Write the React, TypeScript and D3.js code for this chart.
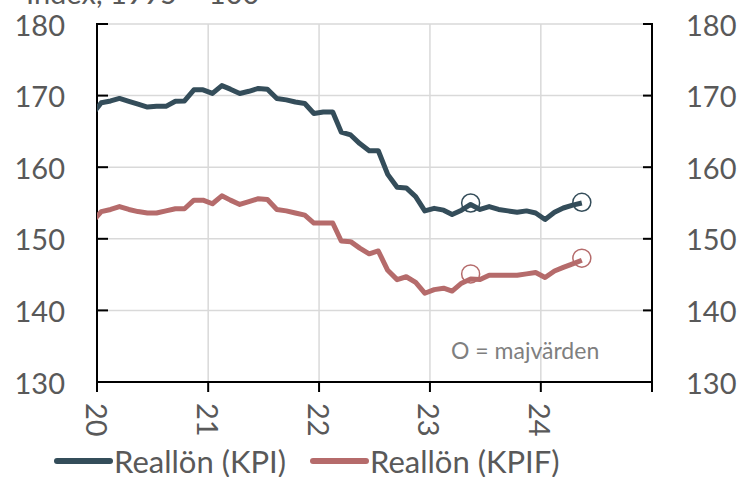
import React from "react";
import * as d3 from "d3";

// monthly values, Dec 2019 .. May 2024 (first point falls left of the axis and is clipped)
const firstMonth = new Date(2019, 11, 15);
const kpi = [
  167.3, 169.0, 169.25, 169.6, 169.2, 168.8, 168.4, 168.5, 168.5, 169.2, 169.25, 170.8, 170.8,
  170.3, 171.4, 170.9, 170.3, 170.6, 171.0, 170.9, 169.6, 169.4, 169.1, 168.9, 167.5,
  167.7, 167.7, 164.9, 164.5, 163.3, 162.3, 162.3, 159.0, 157.2, 157.1, 155.9, 153.9,
  154.25, 154.0, 153.4, 154.0, 154.8, 154.1, 154.5, 154.1, 153.9, 153.7, 153.9, 153.6,
  152.7, 153.7, 154.3, 154.7, 155.0
];
const kpif = [
  152.3, 153.8, 154.1, 154.5, 154.1, 153.8, 153.6, 153.6, 153.9, 154.2, 154.2, 155.4, 155.4,
  154.9, 156.0, 155.4, 154.8, 155.2, 155.6, 155.5, 154.1, 153.9, 153.6, 153.3, 152.2,
  152.2, 152.2, 149.7, 149.6, 148.7, 147.9, 148.3, 145.6, 144.3, 144.7, 143.9, 142.4,
  142.9, 143.1, 142.7, 143.8, 144.4, 144.3, 144.9, 144.9, 144.9, 144.9, 145.1, 145.3,
  144.6, 145.5, 146.0, 146.5, 147.0
];
// May markers
const mayDates = [new Date(2023, 4, 15), new Date(2024, 4, 15)];
const mayKpi = [155.0, 155.1];
const mayKpif = [145.1, 147.3];

const yTicks = [130, 140, 150, 160, 170, 180];
const yearTicks = [2020, 2021, 2022, 2023, 2024, 2025];
const yearLabels = ["20", "21", "22", "23", "24"];
const seriesNames = ["Reallön (KPI)", "Reallön (KPIF)"];
const colors = ["#344d5a", "#b56b6b"];

const W = 743;
const H = 477;
const left = 97;
const right = 652;
const top = 24;
const bottom = 382;
const textColor = "#595959";
const font = "Lato, 'Open Sans', sans-serif";

export default function App() {
  const x = d3
    .scaleTime()
    .domain([new Date(2020, 0, 1), new Date(2025, 0, 1)])
    .range([left, right]);
  const y = d3.scaleLinear().domain([130, 180]).range([bottom, top]);
  const months = kpi.map((_, i) => d3.timeMonth.offset(firstMonth, i));

  const line = d3
    .line<number>()
    .x((_, i) => x(months[i]))
    .y((d) => y(d));

  const series = [kpi, kpif];
  const mays = [mayKpi, mayKpif];

  return (
    <svg
      width={W}
      height={H}
      style={{ position: "absolute", left: 0, top: 0, fontFamily: font }}
    >
      <defs>
        <clipPath id="plot">
          <rect x={left} y={0} width={right - left} height={bottom} />
        </clipPath>
      </defs>
      <text x={26} y={4} fontSize={29} fill={textColor}>
        Index, 1995 = 100
      </text>

      {/* grid */}
      {yTicks.slice(1).map((t) => (
        <line
          key={"gy" + t}
          x1={left}
          x2={right}
          y1={y(t)}
          y2={y(t)}
          stroke="#d9d9d9"
          strokeWidth={1.5}
        />
      ))}
      {yearTicks.slice(1, -1).map((t) => (
        <line
          key={"gx" + t}
          x1={x(new Date(t, 0, 1))}
          x2={x(new Date(t, 0, 1))}
          y1={top}
          y2={bottom}
          stroke="#d9d9d9"
          strokeWidth={1.5}
        />
      ))}

      {/* axes */}
      <line x1={left} x2={left} y1={top - 1} y2={bottom} stroke="#000" strokeWidth={2} />
      <line x1={right} x2={right} y1={top - 1} y2={bottom} stroke="#000" strokeWidth={2} />
      <line x1={left} x2={right} y1={bottom} y2={bottom} stroke="#000" strokeWidth={2} />
      {yTicks.map((t) => (
        <g key={"ty" + t}>
          <line x1={left} x2={left + 11} y1={y(t)} y2={y(t)} stroke="#000" strokeWidth={2} />
          <line x1={right - 9} x2={right} y1={y(t)} y2={y(t)} stroke="#000" strokeWidth={2} />
          <text
            x={65}
            y={y(t)}
            textAnchor="end"
            dominantBaseline="central"
            fontSize={29}
            fill={textColor}
          >
            {t}
          </text>
          <text
            x={686}
            y={y(t)}
            textAnchor="start"
            dominantBaseline="central"
            fontSize={29}
            fill={textColor}
          >
            {t}
          </text>
        </g>
      ))}
      {yearTicks.map((t) => (
        <line
          key={"tx" + t}
          x1={x(new Date(t, 0, 1))}
          x2={x(new Date(t, 0, 1))}
          y1={bottom}
          y2={bottom + 10}
          stroke="#000"
          strokeWidth={2}
        />
      ))}
      {yearLabels.map((l, i) => (
        <text
          key={"lx" + l}
          transform={`translate(${x(new Date(yearTicks[i], 0, 1))},${bottom + 21}) rotate(90)`}
          textAnchor="start"
          dominantBaseline="central"
          fontSize={29}
          fill={textColor}
        >
          {l}
        </text>
      ))}

      {/* lines */}
      <g clipPath="url(#plot)">
        {series.map((s, k) => (
          <path
            key={"s" + k}
            d={line(s) || ""}
            fill="none"
            stroke={colors[k]}
            strokeWidth={5}
            strokeLinejoin="round"
          />
        ))}
      </g>
      {mays.map((m, k) =>
        m.map((v, j) => (
          <circle
            key={"c" + k + j}
            cx={x(mayDates[j])}
            cy={y(v)}
            r={9}
            fill="none"
            stroke={colors[k]}
            strokeWidth={1.5}
          />
        ))
      )}
      <text x={451} y={350} dominantBaseline="central" fontSize={23} fill="#7f7f7f">
        O = majvärden
      </text>

      {/* legend */}
      {seriesNames.map((n, k) => {
        const lx = k === 0 ? 57 : 313;
        return (
          <g key={"lg" + k}>
            <line
              x1={lx}
              x2={lx + 53}
              y1={461}
              y2={461}
              stroke={colors[k]}
              strokeWidth={6}
              strokeLinecap="round"
            />
            <text
              x={lx + 57}
              y={461}
              dominantBaseline="central"
              fontSize={31}
              fill={textColor}
            >
              {n}
            </text>
          </g>
        );
      })}
    </svg>
  );
}
